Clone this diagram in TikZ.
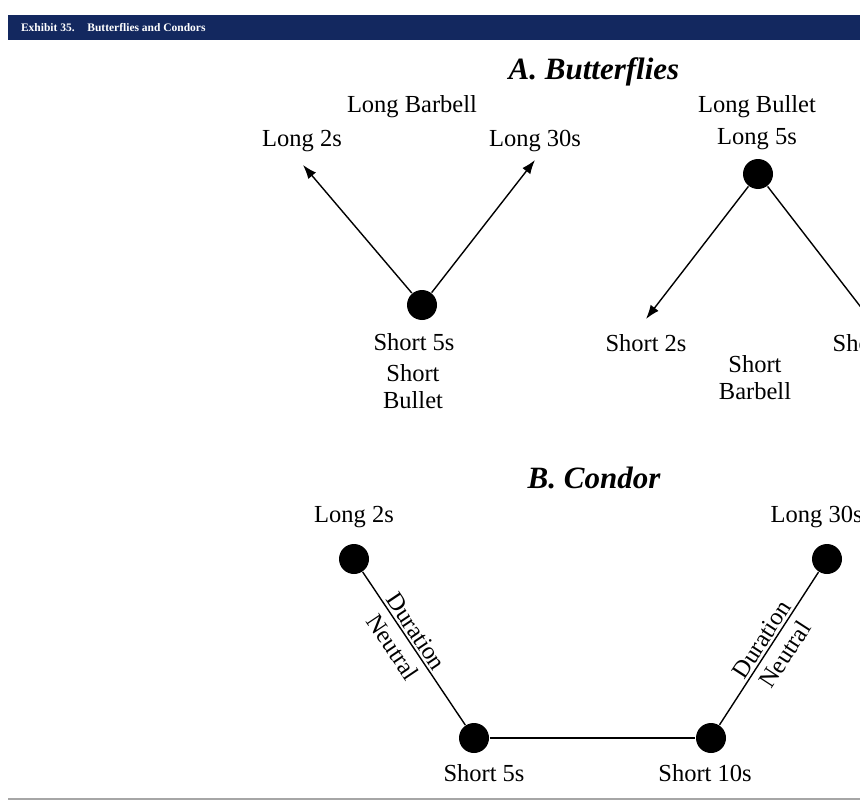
\documentclass[tikz,border=0pt]{standalone}
\usepackage{fontspec}
\setmainfont{Liberation Serif}
\usepackage{xcolor}
\usepackage{tikz}
\usetikzlibrary{positioning,arrows.meta}
\definecolor{exhibitblue}{HTML}{13285F}
\tikzset{>={Latex[length=14pt,width=10pt]}}
\tikzset{
  dot/.style={circle,fill=black,inner sep=0pt,minimum size=30pt},
  lbl/.style={font=\fontsize{24.5}{27}\selectfont,align=center,inner sep=1pt},
  ttl/.style={font=\fontsize{31}{33}\selectfont\bfseries\itshape},
  edge lbl/.style={font=\fontsize{24.5}{27}\selectfont,sloped,inner sep=0pt}
}

\begin{document}
\begin{tikzpicture}[x=1pt,y=-1pt,line width=1.4pt]
      \useasboundingbox (0,0) rectangle (860,800);
      \clip (0,0) rectangle (860,800);
      % header bar and bottom rule
      \fill[exhibitblue] (8,15) rectangle (870,40);
      \node[anchor=west,text=white,font=\fontsize{11.5}{13}\selectfont\bfseries] (hdr) at (17,27.5) {Exhibit 35.\hspace{1.1em}Butterflies and Condors};
      \draw[gray!70,line width=1.2pt] (8,799) -- (870,799);

      % A. Butterflies
      \node[ttl] (ta) at (594,72) {A. Butterflies};
      \node[dot] (s5) at (422,305) {};
      \coordinate (l2) at (303,165);
      \coordinate (l30) at (535,160);
      \draw[->] (s5) -- (l2);
      \draw[->] (s5) -- (l30);
      \node[lbl] (tl2) at (302,141) {Long 2s};
      \node[lbl] (tlb) at (412,107) {Long Barbell};
      \node[lbl] (tl30) at (535,141) {Long 30s};
      \node[lbl] (ts5) at (414,342) {Short 5s};
      \node[lbl] (tsb) at (413,387) {Short\\Bullet};

      \node[dot] (l5) at (758,174) {};
      \coordinate (s2) at (646,319);
      \coordinate (s30) at (870,319);
      \draw[->] (l5) -- (s2);
      \draw (l5) -- (s30);
      \node[lbl] (tlbu) at (757,107) {Long Bullet};
      \node[lbl] (tl5) at (757,139) {Long 5s};
      \node[lbl] (ts2) at (646,343) {Short 2s};
      \node[lbl] (tsba) at (755,378) {Short\\Barbell};
      \node[lbl,anchor=west] (ts30) at (831,343) {Short 30s};

      % B. Condor
      \node[ttl] (tb) at (594,478) {B. Condor};
      \node[dot] (c2) at (354,559) {};
      \node[dot] (c5) at (474,738) {};
      \node[dot] (c10) at (711,738) {};
      \node[dot] (c30) at (827,559) {};
      \draw (c2) -- node[edge lbl,above,outer sep=3pt,pos=0.43] {Duration} node[edge lbl,below,outer sep=8pt,pos=0.43] {Neutral} (c5);
      \draw (c5) -- (c10);
      \draw (c10) -- node[edge lbl,above,outer sep=3pt,pos=0.52] {Duration} node[edge lbl,below,outer sep=8pt,pos=0.52] {Neutral} (c30);
      \node[lbl] (tc2) at (354,517) {Long 2s};
      \node[lbl,anchor=west] (tc30) at (769,517) {Long 30s};
      \node[lbl] (tc5) at (484,773) {Short 5s};
      \node[lbl] (tc10) at (705,773) {Short 10s};
    \end{tikzpicture}
\end{document}
